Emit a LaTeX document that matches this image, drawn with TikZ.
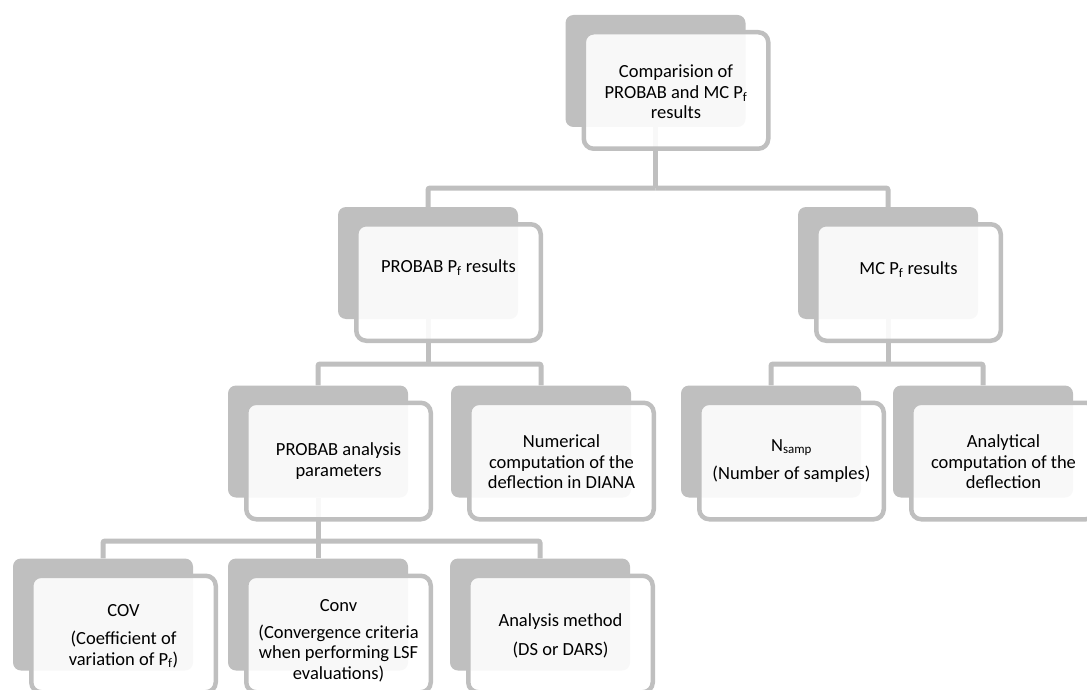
\documentclass[tikz,border=0pt]{standalone}
\usepackage{fontspec}
\setmainfont{Carlito}
\definecolor{boxgray}{HTML}{BFBFBF}
\pgfdeclarelayer{bg}
\pgfsetlayers{bg,main}
\begin{document}
\begin{tikzpicture}[x=1pt,y=-1pt,
  back/.style={fill=boxgray, draw=none, rounded corners=8pt, minimum width=180pt, minimum height=112pt, inner sep=0pt},
  front/.style={fill=white, fill opacity=0.9, draw=boxgray, draw opacity=1, line width=4.5pt, rounded corners=10pt, minimum width=184.5pt, minimum height=116.5pt, inner sep=0pt},
  lbl/.style={font=\fontsize{18.5}{20.5}\selectfont, align=center, text=black, inner sep=0pt},
  conn/.style={draw=boxgray, line width=5pt, rounded corners=2pt}]
\clip (0,0) rectangle (1087,690);
\useasboundingbox (0,0) rectangle (1087,690);

% level 1
\node[back] (b1) at (655.5,71) {};
\node[front] (f1) at (676,90.5) {};
\node[lbl] (t1) at (676,92) {Comparision of\\PROBAB and MC P\textsubscript{f}\\results};

% level 2
\node[back] (b2) at (428,263) {};
\node[front] (f2) at (448.5,282.5) {};
\node[lbl] (t2) at (448.5,268) {PROBAB P\textsubscript{f} results};

\node[back] (b3) at (888,263) {};
\node[front] (f3) at (908.5,282.5) {};
\node[lbl] (t3) at (908.5,270) {MC P\textsubscript{f} results};

% level 3
\node[back] (b4) at (318,441.5) {};
\node[front] (f4) at (338.5,461) {};
\node[lbl] (t4) at (338.5,461) {PROBAB analysis\\parameters};

\node[back] (b5) at (541,441.5) {};
\node[front] (f5) at (561.5,461) {};
\node[lbl] (t5) at (561.5,462) {Numerical\\computation of the\\deflection in DIANA};

\node[back] (b6) at (771,441.5) {};
\node[front] (f6) at (791.5,461) {};
\node[lbl] (t6) at (791.5,461) {N\textsubscript{samp}\\[8pt](Number of samples)};

\node[back] (b7) at (983,441.5) {};
\node[front] (f7) at (1003.5,461) {};
\node[lbl] (t7) at (1003.5,462) {Analytical\\computation of the\\deflection};

% level 4
\node[back] (b8) at (103,614.5) {};
\node[front] (f8) at (123.5,634) {};
\node[lbl] (t8) at (123.5,636) {COV\\[8pt](Coefficient of\\variation of P\textsubscript{f})};

\node[back] (b9) at (318,614.5) {};
\node[front] (f9) at (338.5,634) {};
\node[lbl] (t9) at (338.5,641) {Conv\\[6pt](Convergence criteria\\when performing LSF\\evaluations)};

\node[back] (b10) at (540,614.5) {};
\node[front] (f10) at (560.5,634) {};
\node[lbl] (t10) at (560.5,636) {Analysis method\\[8pt](DS or DARS)};

% connectors
\coordinate (j1) at (655.5,188);
\coordinate (j2) at (428,364);
\coordinate (j3) at (888,364);
\coordinate (j4) at (318,541);
\begin{pgfonlayer}{bg}
\draw[conn] (b1.south) -- (j1);
\draw[conn] (j1) -| (b2.north);
\draw[conn] (j1) -| (b3.north);
\draw[conn] (b2.south) -- (j2);
\draw[conn] (j2) -| (b4.north);
\draw[conn] (j2) -| (b5.north);
\draw[conn] (b3.south) -- (j3);
\draw[conn] (j3) -| (b6.north);
\draw[conn] (j3) -| (b7.north);
\draw[conn] (b4.south) -- (j4);
\draw[conn] (j4) -| (b8.north);
\draw[conn] (j4) -- (b9.north);
\draw[conn] (j4) -| (b10.north);
\end{pgfonlayer}
\end{tikzpicture}
\end{document}
